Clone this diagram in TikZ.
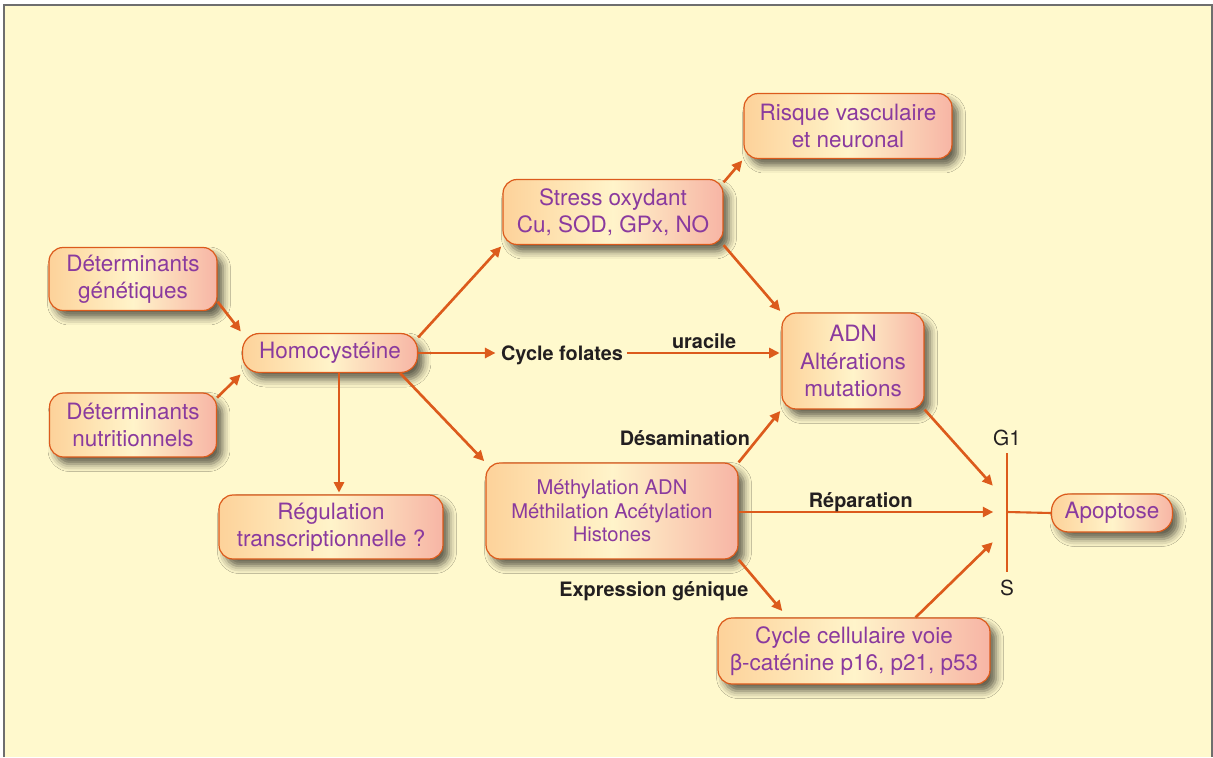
\documentclass[tikz,border=0pt]{standalone}
\usepackage{fontspec}
\setsansfont{TeX Gyre Heros}
\usepackage{tikz}
\usetikzlibrary{arrows.meta, positioning, shadows.blur}
\definecolor{Ink}{HTML}{231F20}
\definecolor{Rust}{HTML}{DC5B1C}
\definecolor{Plum}{HTML}{8A3A9E}
\definecolor{Paper}{HTML}{FFF9CD}
\definecolor{Frame}{HTML}{6E6E6E}
\definecolor{Peach}{HTML}{FDD29A}
\definecolor{Cream}{HTML}{FFF4CA}
\definecolor{Rose}{HTML}{F7B5A5}

\begin{document}
\begin{tikzpicture}[
  x=0.02cm, y=-0.02cm,
  font=\sffamily,
  box/.style={rounded corners=0.28cm, draw=Rust, line width=0.7pt, align=center, text=Plum, left color=Peach, right color=Rose, middle color=Cream, inner sep=2pt, font=\sffamily\fontsize{12.8}{15.4}\selectfont, blur shadow={shadow xshift=0.12cm, shadow yshift=-0.14cm, shadow blur radius=0.15cm, shadow opacity=62}},
  pill/.style={box, rounded corners=0.34cm},
  tag/.style={text=Ink, inner sep=2pt, text depth=0pt, font=\sffamily\bfseries\fontsize{11.3}{13}\selectfont},
  phase/.style={text=Ink, inner sep=1pt, font=\sffamily\fontsize{11.8}{13}\selectfont},
  arrow/.style={-{Triangle[length=0.21cm, width=0.2cm]}, line width=1.5pt, draw=Rust, shorten >=1pt},
  bar/.style={line width=1.2pt, draw=Rust}
]
\useasboundingbox (0,0) rectangle (1213,757);
\fill[Paper] (4,5) rectangle (1213,757);
\draw[Frame, line width=0.8pt] (4,757) -- (4,5) -- (1212,5) -- (1212,757);

\node[box, minimum width=3.36cm, minimum height=1.26cm] (detgen) at (133,279) {Déterminants\\génétiques};
\node[box, minimum width=3.34cm, minimum height=1.28cm] (detnut) at (133,425) {Déterminants\\nutritionnels};
\node[pill, minimum width=3.5cm, minimum height=0.78cm] (homo) at (330,353) {Homocystéine};
\node[box, minimum width=4.48cm, minimum height=1.28cm] (regul) at (331,527) {Régulation\\transcriptionnelle ?};
\node[box, minimum width=4.4cm, minimum height=1.3cm] (stress) at (613,212) {Stress oxydant\\Cu, SOD, GPx, NO};
\node[box, minimum width=4.16cm, minimum height=1.3cm] (risque) at (848,126) {Risque vasculaire\\et neuronal};
\node[box, minimum width=2.84cm, minimum height=1.92cm] (adn) at (853,361) {ADN\\Altérations\\mutations};
\node[box, minimum width=5.04cm, minimum height=1.92cm, font=\sffamily\fontsize{11.5}{13.4}\selectfont] (methyl) at (612,511) {Méthylation ADN\\Méthilation Acétylation\\Histones};
\node[box, minimum width=5.44cm, minimum height=1.32cm] (cycle) at (854,651) {Cycle cellulaire voie\\β-caténine p16, p21, p53};
\node[pill, minimum width=2.42cm, minimum height=0.76cm] (apop) at (1112,513) {Apoptose};
\node[tag] (folates) at (562,353) {Cycle folates};
\node[phase] (g1) at (1007,438) {G1};
\node[phase] (s) at (1007,588) {S};
\coordinate (bartop) at (1007,453);
\coordinate (barbot) at (1007,572);
\coordinate (barmid) at (1007,512);
\coordinate (inadn) at (994,487);
\coordinate (inrep) at (995,512);
\coordinate (incyc) at (994,541);

\draw[arrow] (detgen.-15) -- (homo.north west);
\draw[arrow] (detnut.18) -- (homo.south west);
\draw[arrow] (homo.10) -- (stress.south west);
\draw[arrow] ([xshift=0.18cm]homo.south) -- ([xshift=0.18cm]homo.south |- regul.north);
\draw[arrow] (homo.-16) -- (methyl.north west);
\draw[arrow] (homo.east) -- (folates.west);
\draw[arrow] (folates.east) -- (folates.east -| adn.west) node[tag, midway, above] {uracile};
\draw[arrow] (stress.15) -- (risque.south west);
\draw[arrow] (stress.south east) -- (adn.north west);
\draw[arrow] (methyl.north east) -- (adn.south west) node[tag, pos=0.46, left=2pt] {Désamination};
\draw[arrow] (methyl.east |- inrep) -- (inrep) node[tag, midway, above, xshift=-0.12cm] {Réparation};
\draw[arrow] (methyl.south east) -- ([xshift=1.32cm, yshift=0.1cm]cycle.north west) node[tag, pos=0.56, left=6pt] {Expression génique};
\draw[arrow] (adn.south east) -- (inadn);
\draw[arrow] ([xshift=-1.5cm]cycle.north east) -- (incyc);
\draw[bar] (bartop) -- (barbot);
\draw[bar] (barmid) -- (apop.west);
\end{tikzpicture}
\end{document}
